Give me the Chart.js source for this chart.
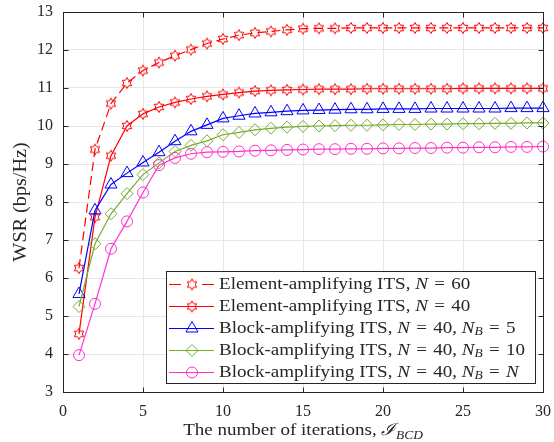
<!DOCTYPE html>
<html lang="en">
  <head>
    <meta charset="UTF-8" />
    <title>WSR vs iterations</title>
    <script src="https://cdn.jsdelivr.net/npm/chart.js@4.4.0/dist/chart.umd.min.js"></script>
    <style>
      html, body { margin: 0; padding: 0; background: #fff; }
      #wrap { width: 554px; height: 442px; }
    </style>
  </head>
  <body>
    <div id="wrap"><canvas id="myChart" width="554" height="442"></canvas></div>

    <script>
      // iterations (x values)
      var iterations = [1, 2, 3, 4, 5, 6, 7, 8, 9, 10, 11, 12, 13, 14, 15,
                        16, 17, 18, 19, 20, 21, 22, 23, 24, 25, 26, 27, 28, 29, 30];

      // WSR (bps/Hz)
      var elemN60 = [6.26, 9.38, 10.59, 11.13, 11.46, 11.67, 11.85, 12.01, 12.17, 12.29, 12.39, 12.45, 12.49, 12.53, 12.56,
                     12.57, 12.57, 12.58, 12.58, 12.58, 12.58, 12.58, 12.58, 12.58, 12.58, 12.58, 12.58, 12.58, 12.58, 12.58];
      var elemN40 = [4.53, 7.6, 9.22, 10.0, 10.32, 10.5, 10.62, 10.71, 10.78, 10.83, 10.88, 10.92, 10.94, 10.95, 10.96,
                     10.97, 10.97, 10.97, 10.98, 10.98, 10.98, 10.98, 10.98, 10.98, 10.99, 10.99, 10.99, 10.99, 10.99, 10.99];
      var blockNB5 = [5.58, 7.78, 8.46, 8.76, 9.04, 9.31, 9.6, 9.86, 10.03, 10.2, 10.27, 10.33, 10.36, 10.39, 10.41,
                      10.42, 10.43, 10.44, 10.44, 10.45, 10.45, 10.45, 10.46, 10.46, 10.46, 10.46, 10.46, 10.47, 10.47, 10.47];
      var blockNB10 = [5.25, 6.9, 7.69, 8.22, 8.72, 9.03, 9.33, 9.49, 9.61, 9.77, 9.83, 9.9, 9.94, 9.97, 9.99,
                       10.0, 10.01, 10.02, 10.02, 10.03, 10.04, 10.04, 10.05, 10.05, 10.06, 10.06, 10.07, 10.07, 10.08, 10.08];
      var blockNBN = [3.97, 5.32, 6.77, 7.49, 8.25, 8.97, 9.16, 9.27, 9.31, 9.32, 9.33, 9.35, 9.36, 9.37, 9.38,
                      9.39, 9.39, 9.4, 9.4, 9.41, 9.41, 9.42, 9.42, 9.43, 9.43, 9.44, 9.44, 9.45, 9.45, 9.46];

      // legend text, $..$ = math italic, _ = subscript
      var seriesNames = [
        "Element-amplifying ITS, $N$ = 60",
        "Element-amplifying ITS, $N$ = 40",
        "Block-amplifying ITS, $N$ = 40, $N_B$ = 5",
        "Block-amplifying ITS, $N$ = 40, $N_B$ = 10",
        "Block-amplifying ITS, $N$ = 40, $N_B$ = $N$"
      ];

      var xTicks = [0, 5, 10, 15, 20, 25, 30];
      var yTicks = [3, 4, 5, 6, 7, 8, 9, 10, 11, 12, 13];

      var xTitle = "The number of iterations, $\u2110_BCD$";
      var yTitle = "WSR (bps/Hz)";

      var SERIF = "'Liberation Serif', 'DejaVu Serif', serif";
      var AXIS_COLOR = "#262626";
      var STRETCH = 1.12; // LaTeX fonts run wider than Times

      // hexagram marker (MATLAB 'h')
      function hexagram(color, R) {
        var c = document.createElement("canvas");
        var s = Math.ceil(2 * R + 3);
        c.width = s;
        c.height = s;
        var g = c.getContext("2d");
        var cx = s / 2, cy = s / 2;
        var r = R / Math.sqrt(3);
        g.beginPath();
        for (var k = 0; k < 12; k++) {
          var a = -Math.PI / 2 + k * Math.PI / 6;
          var rr = k % 2 == 0 ? R : r;
          var px = cx + rr * Math.cos(a), py = cy + rr * Math.sin(a);
          if (k == 0) g.moveTo(px, py); else g.lineTo(px, py);
        }
        g.closePath();
        g.strokeStyle = color;
        g.lineWidth = 1;
        g.stroke();
        return c;
      }

      var starMark = hexagram("#ff0000", 5.5);

      function toPoints(ys) {
        return iterations.map(function (x, i) { return { x: x, y: ys[i] }; });
      }

      function series(label, ys, color, style, radius, dash) {
        return {
          label: label,
          data: toPoints(ys),
          borderColor: color,
          backgroundColor: "rgba(0,0,0,0)",
          pointBorderColor: color,
          pointBackgroundColor: "rgba(0,0,0,0)",
          pointStyle: style,
          pointRadius: radius,
          pointBorderWidth: 1,
          borderWidth: 1.2,
          borderDash: dash || [],
          tension: 0,
          clip: false
        };
      }

      var datasets = [
        series(seriesNames[0], elemN60, "#ff0000", starMark, 5.5, [9, 5]),
        series(seriesNames[1], elemN40, "#ff0000", starMark, 5.5),
        series(seriesNames[2], blockNB5, "#0000ff", "triangle", 7),
        series(seriesNames[3], blockNB10, "#77ac30", "rectRot", 6),
        series(seriesNames[4], blockNBN, "#ff33cc", "circle", 5.5)
      ];
      // MATLAB draws later series on top
      datasets.forEach(function (d, i) { d.order = datasets.length - i; });

      // draws one run of text stretched horizontally, returns its advance
      function run(ctx, t, x, y, font, measureOnly) {
        ctx.font = font;
        var w = ctx.measureText(t).width * STRETCH;
        if (!measureOnly) {
          ctx.save();
          ctx.translate(x, y);
          ctx.scale(STRETCH, 1);
          ctx.fillText(t, 0, 0);
          ctx.restore();
        }
        return w;
      }

      // $..$ = italic, _ = subscript, wider gaps around '='
      function drawRich(ctx, text, x, y, size, measureOnly) {
        var x0 = x;
        var parts = text.split("$");
        for (var i = 0; i < parts.length; i++) {
          var p = parts[i];
          if (!p) continue;
          if (i % 2 == 0) {
            var bits = p.split("=");
            for (var j = 0; j < bits.length; j++) {
              if (j > 0) {
                x += 1.5;
                x += run(ctx, "=", x, y, size + "px " + SERIF, measureOnly);
                x += 1.5;
              }
              if (bits[j]) x += run(ctx, bits[j], x, y, size + "px " + SERIF, measureOnly);
            }
          } else {
            var sub = p.split("_");
            x += run(ctx, sub[0], x, y, "italic " + size + "px " + SERIF, measureOnly);
            if (sub[1]) {
              x += run(ctx, sub[1], x, y + size * 0.22, "italic " + Math.round(size * 0.7) + "px " + SERIF, measureOnly);
            }
          }
        }
        return x - x0;
      }

      var boxPlugin = {
        id: "matlabBox",
        afterDraw: function (chart) {
          var ctx = chart.ctx;
          var a = chart.chartArea;
          var xs = chart.scales.x, ys = chart.scales.y;
          ctx.save();
          ctx.strokeStyle = AXIS_COLOR;
          ctx.lineWidth = 1;
          var L = Math.round(a.left) + 0.5, R = Math.round(a.right) + 0.5;
          var T = Math.round(a.top) + 0.5, B = Math.round(a.bottom) + 0.5;
          ctx.strokeRect(L, T, R - L, B - T);
          ctx.beginPath();
          xTicks.forEach(function (v) {
            var px = Math.round(xs.getPixelForValue(v)) + 0.5;
            ctx.moveTo(px, B); ctx.lineTo(px, B - 5);
            ctx.moveTo(px, T); ctx.lineTo(px, T + 5);
          });
          yTicks.forEach(function (v) {
            var py = Math.round(ys.getPixelForValue(v)) + 0.5;
            ctx.moveTo(L, py); ctx.lineTo(L + 5, py);
            ctx.moveTo(R, py); ctx.lineTo(R - 5, py);
          });
          ctx.stroke();

          // axis titles
          ctx.fillStyle = AXIS_COLOR;
          ctx.textAlign = "left";
          ctx.textBaseline = "alphabetic";
          var tw = drawRich(ctx, xTitle, 0, 0, 17, true);
          drawRich(ctx, xTitle, (a.left + a.right) / 2 - tw / 2, 435, 17);

          ctx.save();
          ctx.translate(26, (a.top + a.bottom) / 2);
          ctx.rotate(-Math.PI / 2);
          ctx.textAlign = "center";
          run(ctx, yTitle, 0, 0, "18px " + SERIF);
          ctx.restore();

          // legend box
          var lx = 166, ly = 271, lw = 369, lh = 112;
          ctx.fillStyle = "#ffffff";
          ctx.fillRect(lx, ly, lw, lh);
          ctx.strokeStyle = AXIS_COLOR;
          ctx.strokeRect(lx + 0.5, ly + 0.5, lw, lh);
          var rows = [283.5, 305.5, 327.5, 349.5, 371.5];
          chart.data.datasets.forEach(function (d, i) {
            var ry = Math.round(rows[i]) + 0.5;
            ctx.save();
            ctx.strokeStyle = d.borderColor;
            ctx.lineWidth = d.borderWidth;
            ctx.beginPath();
            if (d.borderDash.length) {
              ctx.moveTo(169, ry); ctx.lineTo(181, ry);
              ctx.moveTo(202, ry); ctx.lineTo(214, ry);
            } else {
              ctx.moveTo(169, ry); ctx.lineTo(214, ry);
            }
            ctx.stroke();
            if (typeof d.pointStyle == "string") {
              ctx.strokeStyle = d.pointBorderColor;
              ctx.fillStyle = "rgba(0,0,0,0)";
              ctx.lineWidth = 1;
              Chart.helpers.drawPoint(ctx, {
                pointStyle: d.pointStyle,
                radius: d.pointRadius,
                borderWidth: 1,
                rotation: 0
              }, 192, ry);
            } else {
              ctx.drawImage(d.pointStyle, 192 - d.pointStyle.width / 2, ry - d.pointStyle.height / 2);
            }
            ctx.restore();
            ctx.fillStyle = AXIS_COLOR;
            ctx.textBaseline = "middle";
            drawRich(ctx, d.label, 219, ry, 17);
          });
          ctx.restore();
        }
      };

      var config = {
        type: "line",
        data: { datasets: datasets },
        options: {
          responsive: false,
          animation: false,
          layout: { padding: { left: 0, right: 11, top: 12, bottom: 0 } },
          plugins: { legend: { display: false }, tooltip: { enabled: false } },
          scales: {
            x: {
              type: "linear",
              min: 0,
              max: 30,
              afterFit: function (s) { s.height = 50; s.paddingLeft = 0; s.paddingRight = 0; },
              afterBuildTicks: function (s) { s.ticks = xTicks.map(function (v) { return { value: v }; }); },
              grid: { color: "#e6e6e6", drawTicks: false },
              border: { display: false },
              ticks: { color: AXIS_COLOR, padding: 10, maxRotation: 0, font: { family: SERIF, size: 16 } }
            },
            y: {
              min: 3,
              max: 13,
              afterFit: function (s) { s.width = 63; s.paddingTop = 0; s.paddingBottom = 0; },
              afterBuildTicks: function (s) { s.ticks = yTicks.map(function (v) { return { value: v }; }); },
              grid: { color: "#e6e6e6", drawTicks: false },
              border: { display: false },
              ticks: { color: AXIS_COLOR, padding: 10, font: { family: SERIF, size: 16 } }
            }
          }
        },
        plugins: [boxPlugin]
      };

      var myChart = new Chart(document.getElementById("myChart"), config);
    </script>
  </body>
</html>
